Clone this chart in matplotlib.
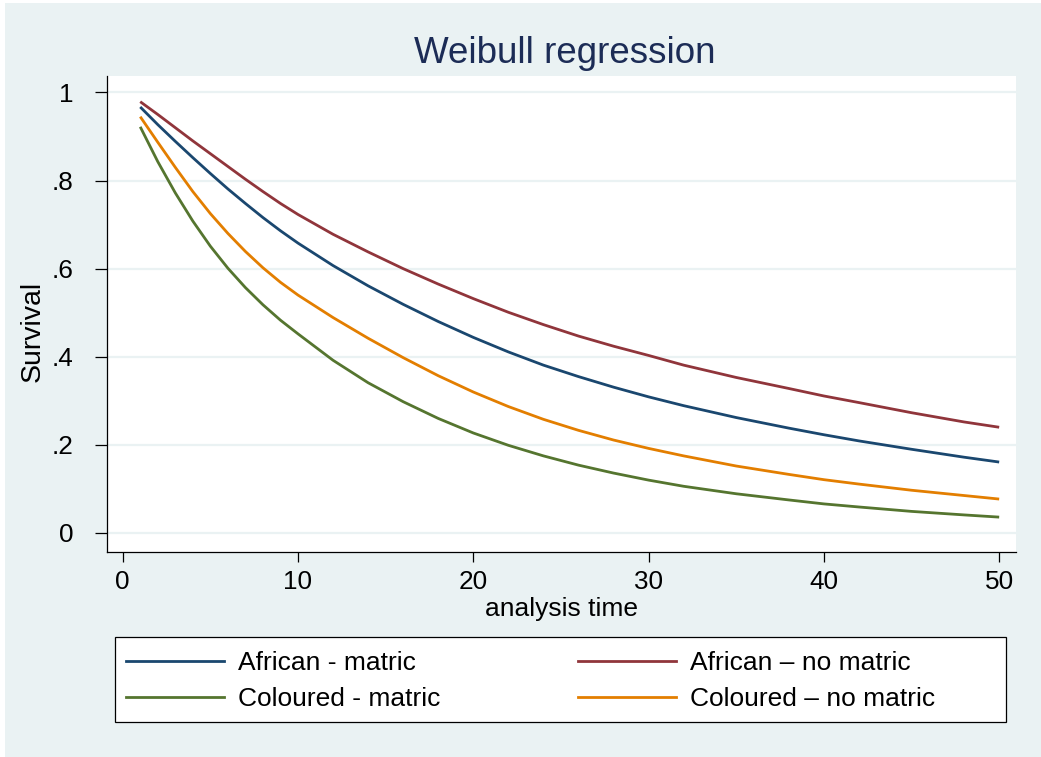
import matplotlib
matplotlib.use("Agg")
import matplotlib.pyplot as plt
from matplotlib.patches import Rectangle
from matplotlib.lines import Line2D

plt.rcParams['font.family'] = ['Liberation Sans', 'DejaVu Sans']

# analysis time points and predicted survival for each group
t = [1, 2, 3, 4, 5, 6, 7, 8, 9, 10, 12, 14, 16, 18, 20, 22, 24, 26, 28, 30,
     32, 35, 38, 40, 42, 45, 48, 50]
african_matric = [.967, .927, .889, .852, .816, .781, .748, .716, .686, .658,
                  .607, .561, .519, .480, .444, .411, .381, .355, .331, .309,
                  .289, .262, .238, .223, .209, .190, .172, .161]
african_nomatric = [.979, .950, .920, .890, .861, .832, .803, .775, .748, .723,
                    .678, .638, .600, .565, .532, .501, .473, .447, .424, .403,
                    .381, .353, .328, .311, .296, .273, .252, .240]
coloured_matric = [.922, .843, .772, .708, .651, .601, .557, .518, .483, .452,
                   .392, .341, .298, .260, .227, .199, .175, .154, .136, .120,
                   .106, .089, .075, .066, .059, .049, .041, .036]
coloured_nomatric = [.945, .887, .830, .775, .725, .680, .639, .602, .569, .540,
                     .489, .442, .398, .357, .320, .287, .258, .233, .211, .192,
                     .175, .152, .133, .121, .111, .097, .085, .077]

labels = ['African - matric', 'Coloured - matric',
          'African \u2013 no matric', 'Coloured \u2013 no matric']
colors = ['#1A476F', '#55752F', '#90353B', '#E37E00']

xticks = [0, 10, 20, 30, 40, 50]
yticks = [0, .2, .4, .6, .8, 1]
yticklabels = ['0', '.2', '.4', '.6', '.8', '1']

W, H = 1041, 757
bg = '#EAF2F3'
fs = 18.8

fig = plt.figure(figsize=(W / 100, H / 100), dpi=100, facecolor='white')
fig.patches.append(Rectangle((5 / W, 0), 1, 1 - 3 / H, transform=fig.transFigure,
                             facecolor=bg, edgecolor='none', zorder=-10))

ax = fig.add_axes([107 / W, 1 - 551.7 / H, (1016 - 107) / W, (551.7 - 75.7) / H])
ax.set_facecolor('white')

series = [african_matric, coloured_matric, african_nomatric, coloured_nomatric]
for vals, c, lab in zip(series, colors, labels):
    ax.plot(t, vals, color=c, lw=2.0, label=lab, solid_capstyle='butt',
            solid_joinstyle='round')

ax.set_xlim(-0.896, 50.96)
ax.set_ylim(-0.0425, 1.038)
ax.set_xticks(xticks)
ax.set_yticks(yticks)
ax.set_yticklabels(yticklabels)
ax.grid(axis='y', color=bg, lw=1.6)
ax.set_axisbelow(True)

for s in ['top', 'right']:
    ax.spines[s].set_visible(False)
for s in ['left', 'bottom']:
    ax.spines[s].set_linewidth(0.9)
    ax.spines[s].set_color('black')

ax.tick_params(axis='y', length=8.5, width=0.9, pad=15.5, labelsize=fs)
ax.tick_params(axis='x', length=7.2, width=0.9, pad=6, labelsize=fs)

ax.set_xlabel('analysis time', fontsize=19)
ax.xaxis.label.set_va('baseline')
ax.xaxis.set_label_coords(0.5, (551.7 - 616) / 476)
ax.set_ylabel('Survival', fontsize=20.5)
ax.yaxis.label.set_va('center')
ax.yaxis.set_label_coords((33 - 107) / 909, (551.7 - 331) / 476)

fig.text(565 / W, 1 - 63 / H, 'Weibull regression', ha='center', va='baseline',
         fontsize=26.5, color='#1C2C56')

# legend box with two columns of keys
fig.patches.append(Rectangle((115 / W, 1 - 721.7 / H), 891 / W, 85 / H,
                             transform=fig.transFigure, facecolor='white',
                             edgecolor='black', lw=0.9, zorder=1))
handles = [Line2D([], [], color=c, lw=2.0) for c in colors]
for i, x0 in enumerate([125.7, 578]):
    leg = fig.legend(handles[2 * i:2 * i + 2], labels[2 * i:2 * i + 2],
                     loc='upper left', bbox_to_anchor=(x0 / W, 1 - 651 / H),
                     frameon=False, fontsize=19, borderpad=0, borderaxespad=0,
                     handlelength=3.72, handletextpad=0.53, labelspacing=0.46)
    leg.set_zorder(2)

fig.savefig('out.png', dpi=100, facecolor=fig.get_facecolor())
